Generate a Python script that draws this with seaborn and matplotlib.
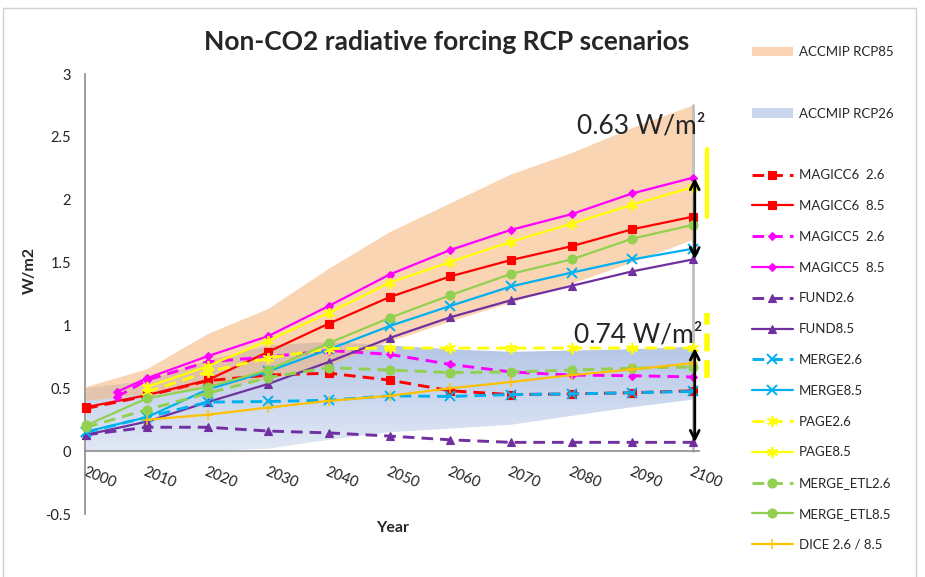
import numpy as np
import pandas as pd
import matplotlib
matplotlib.use("Agg")
import matplotlib.pyplot as plt
from matplotlib.patches import Patch, Rectangle
from matplotlib.lines import Line2D
from matplotlib.colors import LinearSegmentedColormap
import seaborn as sns

# ---- data ----
years = [2000, 2010, 2020, 2030, 2040, 2050, 2060, 2070, 2080, 2090, 2100]
years_magicc5 = [2005, 2010, 2020, 2030, 2040, 2050, 2060, 2070, 2080, 2090, 2100]
years_late = [2010, 2020, 2030, 2040, 2050, 2060, 2070, 2080, 2090, 2100]

rcp85_lower = [0.40, 0.45, 0.50, 0.57, 0.68, 0.87, 1.03, 1.18, 1.33, 1.50, 1.68]
rcp85_upper = [0.51, 0.65, 0.93, 1.13, 1.45, 1.74, 1.97, 2.20, 2.37, 2.57, 2.75]
rcp26_lower = [0.00, 0.00, 0.00, 0.02, 0.09, 0.15, 0.18, 0.21, 0.28, 0.35, 0.41]
rcp26_upper = [0.50, 0.56, 0.72, 0.84, 0.87, 0.84, 0.81, 0.79, 0.80, 0.81, 0.83]

magicc6_26 = [0.34, 0.44, 0.56, 0.605, 0.62, 0.565, 0.48, 0.45, 0.455, 0.465, 0.48]
magicc6_85 = [0.35, 0.445, 0.565, 0.79, 1.015, 1.225, 1.39, 1.52, 1.63, 1.765, 1.865]
magicc5_26 = [0.43, 0.565, 0.71, 0.75, 0.80, 0.77, 0.69, 0.63, 0.605, 0.60, 0.59]
magicc5_85 = [0.47, 0.58, 0.755, 0.915, 1.155, 1.405, 1.60, 1.76, 1.885, 2.05, 2.175]
fund_26 = [0.13, 0.19, 0.19, 0.16, 0.145, 0.12, 0.09, 0.07, 0.07, 0.07, 0.07]
fund_85 = [0.13, 0.235, 0.39, 0.535, 0.71, 0.90, 1.065, 1.20, 1.315, 1.43, 1.525]
merge_26 = [0.15, 0.27, 0.39, 0.395, 0.405, 0.44, 0.435, 0.45, 0.455, 0.465, 0.475]
merge_85 = [0.155, 0.27, 0.49, 0.635, 0.81, 0.995, 1.155, 1.31, 1.42, 1.525, 1.61]
page_26 = [0.47, 0.63, 0.74, 0.815, 0.82, 0.82, 0.82, 0.82, 0.82, 0.82]
page_85 = [0.51, 0.675, 0.88, 1.10, 1.34, 1.505, 1.665, 1.81, 1.96, 2.10]
etl_26 = [0.19, 0.33, 0.46, 0.585, 0.665, 0.645, 0.625, 0.63, 0.645, 0.66, 0.67]
etl_85 = [0.205, 0.42, 0.51, 0.645, 0.86, 1.06, 1.24, 1.41, 1.525, 1.69, 1.80]
dice = [0.25, 0.29, 0.347, 0.40, 0.44, 0.50, 0.55, 0.605, 0.65, 0.70]

# spread brackets at 2100 (8.5 and 2.6 models)
spread_85 = [1.525, 2.175]
spread_26 = [0.07, 0.82]
bar_85 = [1.865, 2.40]
bar_26 = [0.58, 1.10]

# ---- style ----
sns.set_style("white")
plt.rcParams["font.family"] = ["Lato", "DejaVu Sans"]

fig = plt.figure(figsize=(9.25, 5.77), dpi=100)
ax = fig.add_axes([85 / 925, 1 - 514 / 577, 614 / 925, 440 / 577])

# chart border
fig.patches.append(Rectangle((3 / 925, -0.1), 913 / 925, 1.1 - 8 / 577, transform=fig.transFigure,
                             fill=False, edgecolor="#D0D0D0", linewidth=1))

# RCP2.6 band with a vertical gradient
blue_cmap = LinearSegmentedColormap.from_list("rcp26", ["#E1E8F5", "#B3C5E6"])
poly = ax.fill_between(years, rcp26_lower, rcp26_upper, facecolor="none", edgecolor="none")
grad = np.linspace(0, 1, 256).reshape(-1, 1)
img = ax.imshow(grad, extent=[years[0], years[-1], min(rcp26_lower), max(rcp26_upper)],
                origin="lower", cmap=blue_cmap, aspect="auto", zorder=1)
img.set_clip_path(poly.get_paths()[0], transform=ax.transData)

# RCP8.5 band
ax.fill_between(years, rcp85_lower, rcp85_upper, facecolor="#F7B982", alpha=0.6,
                edgecolor="none", zorder=1.5)

DASH = (0, (4, 2.4))
series = [
    ("MAGICC6  2.6", years, magicc6_26, "#FF0000", "s", True, 6.0, 0.8),
    ("MAGICC6  8.5", years, magicc6_85, "#FF0000", "s", False, 6.0, 0.8),
    ("MAGICC5  2.6", years_magicc5, magicc5_26, "#FF00FF", "D", True, 4.5, 0.8),
    ("MAGICC5  8.5", years_magicc5, magicc5_85, "#FF00FF", "D", False, 4.5, 0.8),
    ("FUND2.6", years, fund_26, "#7030A0", "^", True, 6.0, 0.8),
    ("FUND8.5", years, fund_85, "#7030A0", "^", False, 6.0, 0.8),
    ("MERGE2.6", years, merge_26, "#00B0F0", "x", True, 6.5, 1.4),
    ("MERGE8.5", years, merge_85, "#00B0F0", "x", False, 6.5, 1.4),
    ("PAGE2.6", years_late, page_26, "#FFFF00", (6, 2, 0), True, 8.0, 1.3),
    ("PAGE8.5", years_late, page_85, "#FFFF00", (6, 2, 0), False, 8.0, 1.3),
    ("MERGE_ETL2.6", years, etl_26, "#92D050", "o", True, 6.5, 0.8),
    ("MERGE_ETL8.5", years, etl_85, "#92D050", "o", False, 6.5, 0.8),
    ("DICE 2.6 / 8.5", years_late, dice, "#FFC000", "+", False, 7.0, 1.1),
]

handles = {}
for name, xs, ys, color, marker, dashed, ms, mew in series:
    df = pd.DataFrame({"year": xs, "forcing": ys})
    sns.lineplot(data=df, x="year", y="forcing", ax=ax, color=color, marker=marker,
                 linestyle=DASH if dashed else "-", linewidth=2.1 if dashed else 1.6,
                 markersize=ms, markeredgecolor=color, markeredgewidth=mew,
                 errorbar=None, legend=False, clip_on=False, zorder=3)
    handles[name] = ax.lines[-1]

# grey edge line at 2100 and the spread arrows
ax.plot([years[-1], years[-1]], [0, rcp85_upper[-1]], color="#BFBFBF", linewidth=2, zorder=2,
        clip_on=False)
for lo, hi in (spread_85, spread_26):
    ax.annotate("", xy=(2100.3, lo), xytext=(2100.3, hi),
                arrowprops=dict(arrowstyle="<->", color="black", lw=2, mutation_scale=16,
                                shrinkA=0, shrinkB=0), zorder=5)
ax.plot([2102.3, 2102.3], bar_85, color="#FFFF00", linewidth=3, clip_on=False, zorder=4)
ax.plot([2102.3, 2102.3], bar_26, color="#FFFF00", linewidth=4, linestyle=(0, (3.2, 1.6)),
        clip_on=False, zorder=4)
ax.text(2091.5, 2.59, "0.63 W/m²", fontsize=19, ha="center", va="center", zorder=6)
ax.text(2091, 0.925, "0.74 W/m²", fontsize=19, ha="center", va="center", zorder=6)

# axes
ax.set_xlim(1999.8, 2101)
ax.set_ylim(-0.5, 3)
ax.set_yticks(np.arange(-0.5, 3.01, 0.5))
ax.set_yticklabels(["-0.5", "0", "0.5", "1", "1.5", "2", "2.5", "3"])
ax.set_xticks(years)
ax.set_xticklabels([str(y) for y in years])
for s in ("top", "right"):
    ax.spines[s].set_visible(False)
ax.spines["bottom"].set_position(("data", 0))
for s in ("left", "bottom"):
    ax.spines[s].set_color("#8C8C8C")
    ax.spines[s].set_linewidth(1.2)
ax.tick_params(axis="both", direction="out", length=4, width=1.1, color="#8C8C8C",
               labelsize=10.5, labelcolor="#222222")
ax.tick_params(axis="y", pad=6)
ax.tick_params(axis="x", pad=6)
for lbl in ax.get_xticklabels():
    lbl.set_rotation(-22)
    lbl.set_rotation_mode("anchor")
    lbl.set_ha("left")
    lbl.set_va("top")
ax.set_xlabel("")
ax.set_ylabel("")
fig.text(393 / 925, 1 - 528 / 577, "Year", fontsize=11.5, fontweight="bold", ha="center", va="center")
fig.text(30 / 925, 1 - 270 / 577, "W/m2", fontsize=11.5, fontweight="bold", rotation=90,
         ha="center", va="center")
fig.text(447 / 925, 1 - 42 / 577, "Non-CO2 radiative forcing RCP scenarios", fontsize=19,
         fontweight="bold", ha="center", va="center")

# legend with blank rows after the two bands
blank = Line2D([], [], linestyle="none")
leg_handles = [Patch(facecolor="#F9D3B4", edgecolor="none"), blank,
               Patch(facecolor="#C9D6EE", edgecolor="none"), blank]
leg_labels = ["ACCMIP RCP85", "", "ACCMIP RCP26", ""]
for name, *_ in series:
    leg_handles.append(handles[name])
    leg_labels.append(name)
fig.legend(leg_handles, leg_labels, loc="upper left", bbox_to_anchor=(752 / 925, 1 - 46 / 577),
           frameon=False, fontsize=9.5, handlelength=3.1, handletextpad=0.45, borderpad=0,
           borderaxespad=0, labelspacing=1.425, numpoints=1)

fig.savefig("out.png", dpi=100)
